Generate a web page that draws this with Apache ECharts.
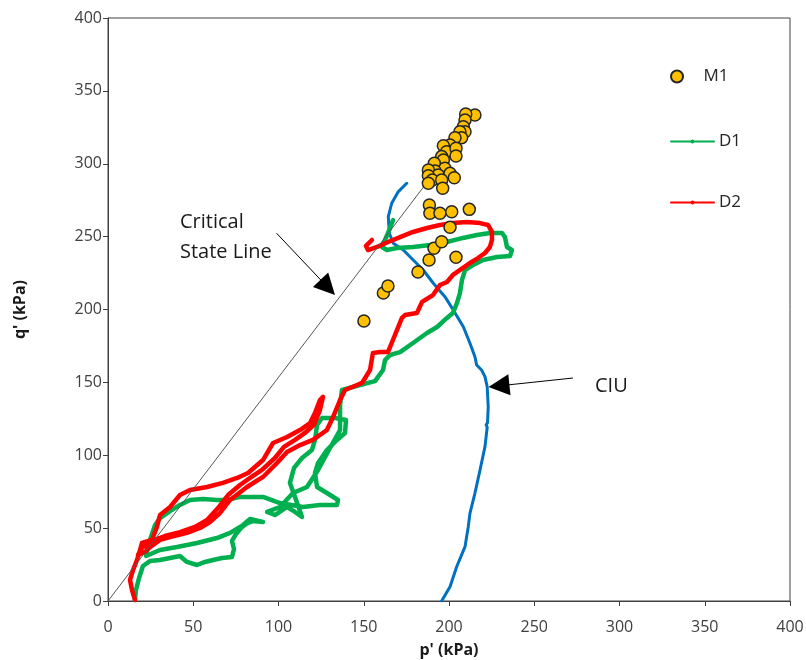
<!DOCTYPE html>
<html>
<head>
<meta charset="utf-8">
<script src="https://cdn.jsdelivr.net/npm/echarts@6/dist/echarts.min.js"></script>
<style>
  html, body { margin: 0; padding: 0; background: #ffffff; }
  #chart { width: 806px; height: 660px; }
</style>
</head>
<body>
<div id="chart"></div>
<script>
// Effective stress paths in p'-q' space (kPa)

// Axis range shared by both axes
const AXIS_MIN = 0;
const AXIS_MAX = 400;
const AXIS_STEP = 50;

// M1 test points [p', q']
const M1_POINTS = [
  [150.1, 192.1], [161.5, 211.3], [164.2, 216.1], [181.8, 225.7], [188.3, 234.0],
  [191.2, 242.0], [195.7, 246.5], [204.1, 235.8], [200.6, 256.4], [188.5, 271.7],
  [188.8, 266.0], [194.7, 266.0], [201.6, 267.1], [211.9, 268.7],
  [215.2, 333.4], [209.8, 334.1], [209.4, 330.0], [208.4, 325.4], [209.4, 322.0],
  [206.4, 322.0], [207.4, 317.9], [203.5, 317.9], [200.6, 312.9], [196.7, 312.4],
  [198.6, 308.3], [204.1, 310.6], [204.1, 305.3], [195.7, 304.9], [196.7, 302.6],
  [191.4, 300.3], [197.6, 296.9], [191.8, 295.0], [187.9, 295.7], [193.7, 292.3],
  [200.6, 293.4], [203.1, 290.4], [187.9, 291.8], [190.2, 288.9], [187.9, 286.6],
  [195.7, 288.9], [196.3, 283.2]
];

// D1 cyclic stress path [p', q']
const D1_PATH = [
  [15.8, 0.7], [16.4, 7.5], [18.2, 15.8], [20.5, 24.0], [24.6, 27.4], [30.5, 28.1],
  [36.4, 29.5], [42.2, 30.9], [46.3, 26.8], [52.2, 24.7], [56.9, 26.8], [61.6, 28.1],
  [66.9, 29.5], [72.7, 30.2], [73.9, 35.7], [72.7, 41.2], [75.1, 46.0], [78.0, 50.1],
  [80.9, 52.8], [85.0, 54.9], [90.9, 54.2], [83.3, 56.3], [79.2, 52.1], [71.6, 46.7],
  [63.9, 43.2], [52.2, 39.8], [40.5, 37.0], [30.5, 35.0], [22.3, 30.9], [24.6, 41.9],
  [27.6, 52.1], [30.5, 56.9], [36.4, 61.7], [42.2, 65.9], [48.1, 69.3], [55.7, 70.0],
  [63.9, 69.3], [69.8, 69.3], [77.4, 71.4], [83.3, 71.4], [90.9, 71.4], [100.9, 67.2],
  [114.4, 64.5], [124.3, 65.9], [134.3, 65.9], [134.9, 69.3], [128.4, 74.1], [122.6, 78.2],
  [121.4, 87.8], [123.2, 94.7], [128.4, 103.6], [134.3, 110.5], [139.0, 115.3], [139.6, 124.2],
  [133.1, 125.6], [125.5, 125.6], [122.6, 120.8], [121.4, 110.5], [119.6, 103.6], [113.8, 98.1],
  [109.1, 91.3], [106.7, 81.0], [110.3, 69.3], [113.8, 57.6], [109.7, 61.1], [105.0, 64.5],
  [97.9, 59.0], [93.3, 61.1], [100.9, 64.5], [108.5, 74.1], [116.7, 78.2], [123.2, 89.9],
  [130.2, 105.0], [136.1, 117.3], [136.1, 134.5], [137.2, 144.8], [143.7, 146.8], [147.8, 148.2],
  [156.6, 150.9], [161.3, 158.5], [162.5, 165.3], [165.4, 168.8], [171.3, 170.8], [178.9, 177.0],
  [187.1, 183.9], [193.0, 188.0], [198.8, 194.2], [202.3, 197.6], [204.7, 204.5], [206.4, 211.3],
  [207.6, 220.2], [209.4, 227.1], [214.1, 230.5], [219.9, 234.0], [228.2, 236.0], [235.8, 236.7],
  [236.9, 240.8], [234.0, 242.9], [232.8, 249.7], [231.1, 252.5], [224.0, 252.5], [216.4, 251.1],
  [208.2, 249.1], [198.8, 246.3], [188.9, 244.3], [178.9, 242.9], [169.5, 242.2], [163.6, 240.8],
  [160.7, 242.9], [162.5, 247.7], [165.4, 255.9], [167.2, 261.4]
];

// D2 cyclic stress path [p', q']
const D2_PATH = [
  [15.8, 0.7], [14.1, 7.5], [12.9, 14.4], [14.7, 21.3], [17.0, 28.1], [18.8, 35.0],
  [19.9, 39.8], [25.8, 41.9], [28.7, 50.8], [30.5, 59.0], [36.4, 64.5], [42.2, 72.7],
  [48.1, 76.2], [58.1, 78.2], [67.4, 81.0], [75.7, 84.4], [82.1, 87.8], [90.9, 96.7],
  [96.8, 108.4], [105.0, 112.5], [112.6, 117.3], [118.5, 122.1], [121.4, 129.0], [124.3, 137.9],
  [126.1, 140.0], [124.3, 131.0], [120.8, 120.8], [115.5, 115.3], [109.7, 110.5], [103.2, 105.7],
  [97.9, 98.1], [90.3, 89.9], [83.3, 84.4], [77.4, 79.6], [70.4, 72.7], [64.5, 63.8],
  [58.1, 55.6], [51.0, 50.8], [42.2, 47.3], [33.4, 44.6], [25.8, 41.2], [19.9, 36.4],
  [17.6, 31.6], [21.7, 33.6], [24.6, 37.0], [30.5, 41.9], [36.4, 43.9], [46.3, 46.7],
  [54.0, 50.1], [59.8, 54.2], [65.7, 60.4], [71.6, 69.3], [81.5, 78.2], [90.9, 85.1],
  [99.1, 94.7], [105.0, 102.2], [112.6, 107.0], [120.2, 110.5], [128.4, 117.3], [132.0, 126.2],
  [136.1, 137.9], [139.0, 144.8], [146.0, 148.2], [149.0, 149.6], [153.7, 158.5], [155.4, 170.2],
  [159.5, 170.8], [164.2, 170.8], [168.3, 182.5], [172.4, 194.2], [174.2, 196.2], [181.2, 197.6],
  [184.2, 205.2], [190.6, 209.9], [194.7, 216.8], [198.8, 218.9], [202.3, 223.7], [208.2, 228.5],
  [212.3, 231.9], [217.0, 235.3], [221.1, 238.8], [224.0, 242.9], [225.2, 247.7], [225.2, 253.2],
  [222.9, 258.0], [218.2, 259.3], [210.6, 260.0], [202.3, 259.3], [194.7, 258.0], [187.1, 255.9],
  [178.9, 253.2], [171.3, 249.7], [164.2, 246.3], [157.8, 242.9], [152.5, 240.8], [151.3, 243.6],
  [154.8, 247.7]
];

// CIU stress path [p', q']
const CIU_PATH = [
  [195.7, 0.0], [200.6, 9.8], [204.5, 23.5], [209.4, 37.3], [211.3, 51.0], [212.3, 60.2],
  [215.2, 73.9], [218.2, 89.9], [221.1, 105.9], [222.4, 119.2], [221.8, 120.8], [222.6, 122.5],
  [223.0, 133.3], [222.4, 147.0], [221.1, 153.9], [219.1, 158.5], [216.2, 161.9], [215.2, 167.6],
  [212.3, 176.8], [208.4, 188.2], [202.5, 199.7], [197.6, 208.8], [190.8, 218.0], [184.9, 227.1],
  [179.0, 234.0], [173.2, 240.8], [167.3, 245.4], [165.0, 252.3], [164.4, 263.7], [166.4, 272.9],
  [170.3, 280.9], [175.2, 286.6]
];

// Critical state line end points [p', q']
const CSL_ENDS = [[0, 0], [186, 285.5]];

// Callout arrows: [tail, head] in [p', q']
const CSL_ARROW = [[98.9, 252.3], [128.9, 215.2]];
const CIU_ARROW = [[272.7, 153.0], [229.3, 147.6]];

// Callout text anchors [p', q']
const CSL_LABEL_AT = [42.2, 249.7];
const CIU_LABEL_AT = [285.6, 147.5];

const FONT = 'Open Sans';
const AXIS_COLOR = '#404040';

const chart = echarts.init(document.getElementById('chart'), null, { renderer: 'canvas' });

function valueAxis(name, extra) {
  return Object.assign({
    type: 'value',
    min: AXIS_MIN,
    max: AXIS_MAX,
    interval: AXIS_STEP,
    name: name,
    nameLocation: 'middle',
    nameTextStyle: { fontFamily: FONT, fontWeight: 'bold', fontSize: 16, color: '#1a1a1a' },
    axisLine: { show: true, onZero: false, lineStyle: { color: AXIS_COLOR, width: 1 } },
    axisTick: { show: true, inside: false, length: 5, lineStyle: { color: AXIS_COLOR, width: 1 } },
    splitLine: { show: false }
  }, extra);
}

function arrowLine(pair) {
  return [{ coord: pair[0] }, { coord: pair[1] }];
}

const legendText = { fontFamily: FONT, fontSize: 17, color: '#262626' };

chart.setOption({
  animation: false,
  backgroundColor: '#ffffff',
  grid: {
    left: 108, right: 16, top: 18, bottom: 59,
    show: true, borderColor: AXIS_COLOR, borderWidth: 1,
    containLabel: false, outerBoundsMode: 'none'
  },
  legend: [
    {
      data: ['M1'], orient: 'vertical', left: 665, top: 63,
      itemWidth: 43, itemHeight: 12, itemGap: 0,
      textStyle: legendText, selectedMode: false
    },
    {
      data: ['D1', 'D2'], orient: 'vertical', left: 665, top: 128,
      itemWidth: 43, itemHeight: 5, itemGap: 44,
      lineStyle: { width: 2 },
      textStyle: legendText, selectedMode: false
    }
  ],
  xAxis: valueAxis("p' (kPa)", {
    nameGap: 41,
    axisLabel: { margin: 18, fontFamily: FONT, fontSize: 16, color: AXIS_COLOR }
  }),
  yAxis: valueAxis("q' (kPa)", {
    nameGap: 80,
    axisLabel: { margin: 6, fontFamily: FONT, fontSize: 16, color: AXIS_COLOR }
  }),
  series: [
    {
      name: 'CIU', type: 'line', data: CIU_PATH,
      showSymbol: false, symbol: 'none', silent: true,
      lineStyle: { color: '#0070C0', width: 3, cap: 'round', join: 'round' },
      z: 2
    },
    {
      name: 'D1', type: 'line', data: D1_PATH,
      showSymbol: false, symbol: 'circle', symbolSize: 4, silent: true,
      itemStyle: { color: '#00B050' },
      lineStyle: { color: '#00B050', width: 4.5, cap: 'round', join: 'round' },
      z: 3
    },
    {
      name: 'D2', type: 'line', data: D2_PATH,
      showSymbol: false, symbol: 'circle', symbolSize: 4, silent: true,
      itemStyle: { color: '#FF0000' },
      lineStyle: { color: '#FF0000', width: 4.5, cap: 'round', join: 'round' },
      z: 4
    },
    {
      name: 'Critical State Line', type: 'line', data: CSL_ENDS,
      showSymbol: false, symbol: 'none', silent: true,
      lineStyle: { color: '#555555', width: 1 },
      z: 5,
      markLine: {
        silent: true,
        symbol: ['none', 'triangle'],
        symbolSize: 21,
        label: { show: false },
        lineStyle: { color: '#000000', width: 1, type: 'solid' },
        itemStyle: { color: '#000000' },
        emphasis: { disabled: true },
        data: [arrowLine(CSL_ARROW), arrowLine(CIU_ARROW)]
      }
    },
    {
      name: 'M1', type: 'scatter', data: M1_POINTS,
      symbol: 'circle', symbolSize: 12, silent: true,
      itemStyle: { color: '#FFC000', borderColor: '#262626', borderWidth: 1.5, opacity: 1 },
      z: 6
    }
  ]
});

// Callout captions, positioned from data coordinates
function placeText(at, text, lineHeight) {
  const px = chart.convertToPixel({ gridIndex: 0 }, at);
  return {
    type: 'text', x: px[0], y: px[1], silent: true, z: 10,
    style: {
      text: text, fill: '#1a1a1a', font: '20px "' + FONT + '"',
      align: 'left', verticalAlign: 'middle', lineHeight: lineHeight
    }
  };
}

chart.setOption({
  graphic: [
    placeText(CSL_LABEL_AT, 'Critical\nState Line', 30),
    placeText(CIU_LABEL_AT, 'CIU', 24)
  ]
});
</script>
</body>
</html>
